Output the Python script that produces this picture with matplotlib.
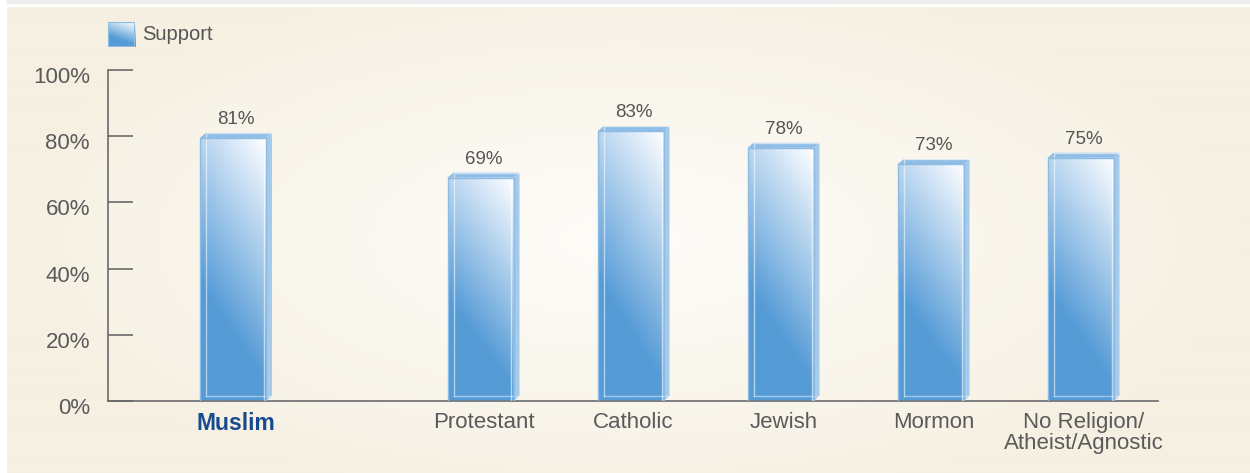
import numpy as np
import matplotlib
matplotlib.use("Agg")
import matplotlib.pyplot as plt
from matplotlib.patches import Polygon, Rectangle
from matplotlib.transforms import ScaledTranslation

plt.rcParams['font.family'] = ['Liberation Sans', 'DejaVu Sans']

# survey results: share who support, by religious group
groups = ['Muslim', 'Protestant', 'Catholic', 'Jewish', 'Mormon',
          'No Religion/\nAtheist/Agnostic']
support = [81, 69, 83, 78, 73, 75]
y_ticks = [0, 20, 40, 60, 80, 100]
y_tick_labels = ['0%', '20%', '40%', '60%', '80%', '100%']
legend_label = 'Support'

W, H = 1250, 473
fig = plt.figure(figsize=(W / 100, H / 100), dpi=100)

# page background: beige panel with a soft light glow in the middle
bg = np.ones((H, W, 3))
yy, xx = np.mgrid[0:H, 0:W]
beige = np.array([246, 240, 226]) / 255
glow = np.array([253, 252, 248]) / 255
r = np.sqrt(((xx - 620) / 620) ** 2 + ((yy - 240) / 260) ** 2)
k = np.clip(1 - r, 0, 1) ** 0.8
panel = beige * (1 - k[..., None]) + glow * k[..., None]
bg[8:, 7:] = panel[8:, 7:]
bg[:5, 7:] = np.array([238, 238, 238]) / 255
bg_ax = fig.add_axes([0, 0, 1, 1], zorder=-1)
bg_ax.imshow(bg, aspect='auto', extent=(0, W, H, 0))
bg_ax.set_axis_off()

# plot area in pixel terms
ax_left, ax_right = 108, 1158
ax_top, ax_bottom = 70, 401
ax = fig.add_axes([ax_left / W, (H - ax_bottom) / H,
                   (ax_right - ax_left) / W, (ax_bottom - ax_top) / H])
ax.patch.set_alpha(0)

px_x = 1 / 150          # data units per pixel, x
px_y = 100 / (ax_bottom - ax_top)
xpos = [0] + [1.65 + i for i in range(len(groups) - 1)]

blue = np.array([85, 155, 214]) / 255
white = np.array([248, 251, 255]) / 255


def gradient(nx=60, ny=200):
    u = np.linspace(0, 1, nx)[None, :]
    v = np.linspace(1, 0, ny)[:, None]
    s = 0.78 * v + 0.3 * u
    t = np.clip((s - 0.35) / 0.7, 0, 1)
    return blue * (1 - t[..., None]) + white * t[..., None]


grad = gradient()
w = 66 * px_x
dx = 6 * px_x
dy = 5 * px_y

for c, v in zip(xpos, support):
    x0 = c - w / 2 - dx / 2
    x1 = x0 + w
    top = v - dy
    ax.imshow(grad, extent=(x0, x1, 0, top), aspect='auto', zorder=2)
    # right side face
    ax.add_patch(Polygon([(x1, 0), (x1 + dx, dy), (x1 + dx, v), (x1, top)],
                         closed=True, fc='#a6cbea', ec='none', zorder=3))
    # top face
    ax.add_patch(Polygon([(x0, top), (x0 + dx, v), (x1 + dx, v), (x1, top)],
                         closed=True, fc='#8fbde6', ec='none', zorder=3))
    # glassy inner edges
    ax.plot([x0 + dx, x0 + dx, x1 + dx], [dy, v, v], color='white',
            lw=1, alpha=0.55, zorder=4)
    ax.plot([x0 + dx, x1 + dx], [dy, dy], color='white', lw=1,
            alpha=0.45, zorder=4)
    ax.plot([x1 - 2 * px_x, x1 - 2 * px_x], [0, top], color='white',
            lw=1, alpha=0.6, zorder=4)
    ax.add_patch(Rectangle((x0, 0), w, top, fill=False, ec='#8cbbe4',
                           lw=1, zorder=4))
    ax.text(c, v, f'{v}%', ha='center', va='bottom', fontsize=13.5,
            color='#555555', zorder=5,
            transform=ax.transData + ScaledTranslation(0, 0.05, fig.dpi_scale_trans))

ax.set_xlim(-128 * px_x, (ax_right - 236) * px_x)
ax.set_ylim(0, 100)

for side in ['top', 'right']:
    ax.spines[side].set_visible(False)
ax.spines['left'].set_bounds(0, 100)
ax.spines['left'].set_color('#6a6a6a')
ax.spines['bottom'].set_color('#6a6a6a')
ax.spines['left'].set_linewidth(1.2)
ax.spines['bottom'].set_linewidth(1.2)

ax.set_yticks(y_ticks)
ax.set_yticklabels(y_tick_labels)
ax.tick_params(axis='y', direction='in', length=18, width=1.2,
               color='#6a6a6a', pad=13, labelsize=16, labelcolor='#5a5a5a')
for lab in ax.get_yticklabels():
    lab.set_transform(lab.get_transform() +
                      ScaledTranslation(0, -0.05, fig.dpi_scale_trans))

ax.set_xticks(xpos)
ax.set_xticklabels(groups, linespacing=1.0)
ax.tick_params(axis='x', length=0, pad=8, labelsize=16, labelcolor='#5a5a5a')
first = ax.get_xticklabels()[0]
first.set_fontweight('bold')
first.set_color('#174b8e')
first.set_fontsize(16.5)

# legend swatch
leg = fig.add_axes([108 / W, (H - 47) / H, 27 / W, 25 / H])
leg.imshow(gradient(30, 30), aspect='auto', extent=(0, 1, 0, 1))
leg.add_patch(Rectangle((0, 0), 1, 1, fill=False, ec='#8cbbe4', lw=1.5,
                        transform=leg.transAxes))
leg.set_axis_off()
fig.text(142 / W, (H - 35) / H, legend_label, fontsize=14.5,
         color='#555555', va='center', ha='left')

fig.savefig('out.png', dpi=100)
